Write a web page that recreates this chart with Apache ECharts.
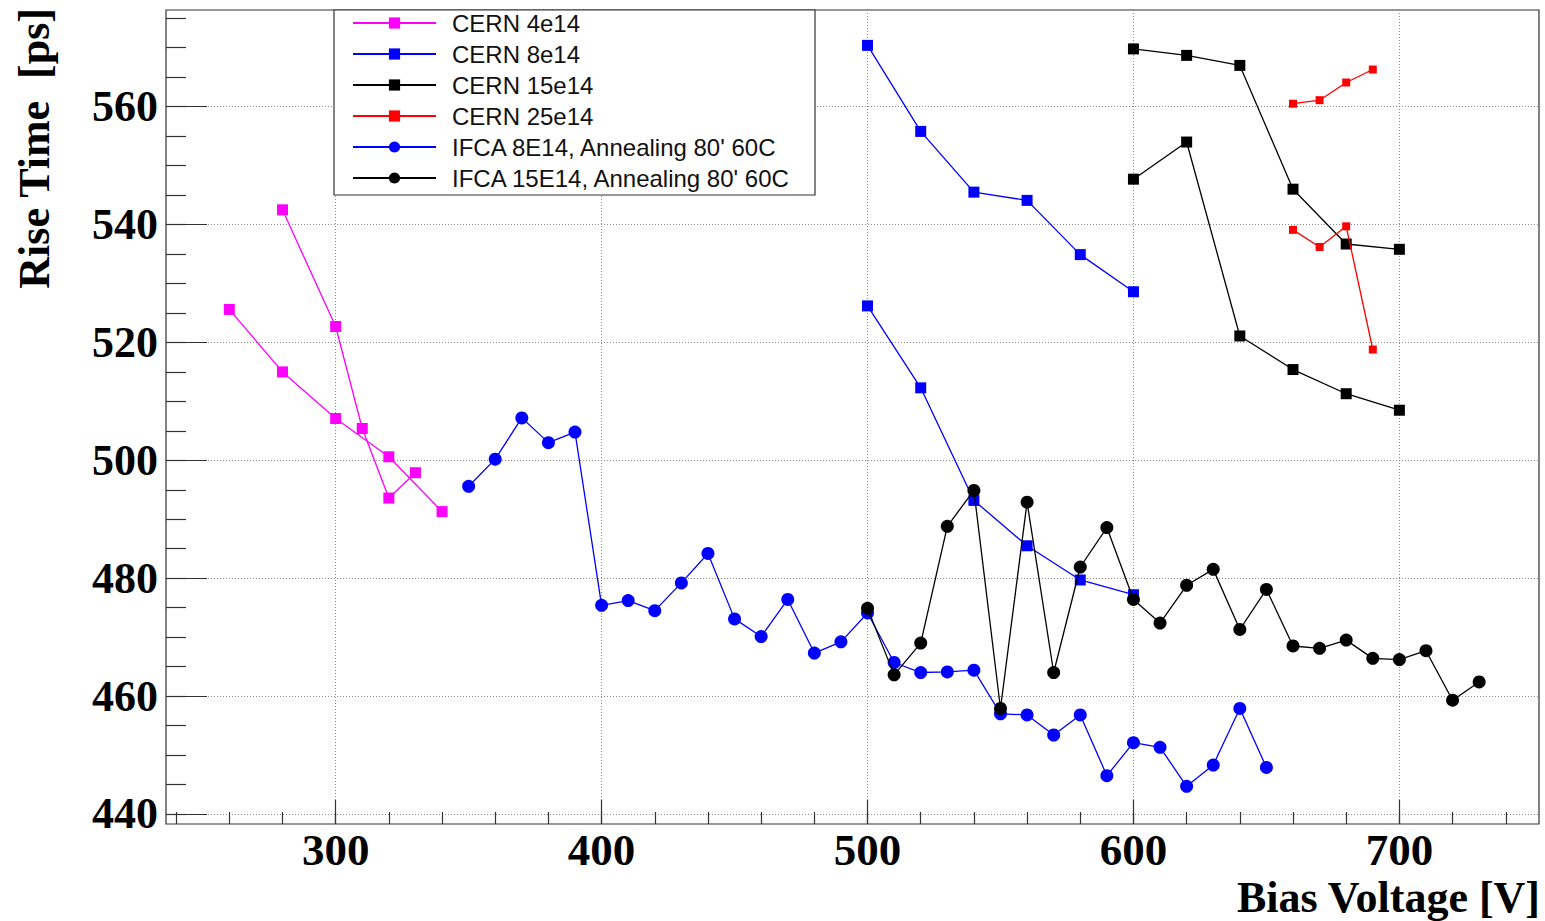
<!DOCTYPE html>
<html><head><meta charset="utf-8">
<script src="https://cdn.jsdelivr.net/npm/echarts@6/dist/echarts.min.js"></script>
<style>html,body{margin:0;padding:0;background:#fff}#c{width:1545px;height:921px}</style>
</head><body><div id="c"></div>
<script>
// ---- axis ranges & ticks ----
const X_MIN = 236.2, X_MAX = 752.5, Y_MIN = 438.3, Y_MAX = 576.4;
const xMajorTicks = [300, 400, 500, 600, 700];
const xMinorTicks = [240, 260, 280, 300, 320, 340, 360, 380, 400, 420, 440, 460, 480, 500, 520, 540, 560, 580, 600, 620, 640, 660, 680, 700, 720, 740];
const yMajorTicks = [440, 460, 480, 500, 520, 540, 560];
const yMinorTicks = [440, 445, 450, 455, 460, 465, 470, 475, 480, 485, 490, 495, 500, 505, 510, 515, 520, 525, 530, 535, 540, 545, 550, 555, 560, 565, 570, 575];
const xTitle = 'Bias Voltage [V]';
const yTitle = 'Rise Time  [ps]';
const legendNames = ['CERN 4e14', 'CERN 8e14', 'CERN 15e14', 'CERN 25e14', 'IFCA 8E14, Annealing 80\' 60C', 'IFCA 15E14, Annealing 80\' 60C'];

// ---- data ----
const cern4A_x = [280, 300, 310, 320, 330];
const cern4A_y = [542.5, 522.7, 505.4, 493.6, 497.9];
const cern4B_x = [260, 280, 300, 320, 340];
const cern4B_y = [525.6, 515.0, 507.1, 500.6, 491.3];
const cern8A_x = [500, 520, 540, 560, 580, 600];
const cern8A_y = [570.4, 555.8, 545.5, 544.1, 534.9, 528.6];
const cern8B_x = [500, 520, 540, 560, 580, 600];
const cern8B_y = [526.2, 512.3, 493.2, 485.5, 479.7, 477.2];
const cern15A_x = [600, 620, 640, 660, 680, 700];
const cern15A_y = [569.8, 568.7, 567.0, 546.0, 536.7, 535.8];
const cern15B_x = [600, 620, 640, 660, 680, 700];
const cern15B_y = [547.7, 554.0, 521.1, 515.4, 511.3, 508.5];
const cern25A_x = [660, 670, 680, 690];
const cern25A_y = [560.5, 561.1, 564.1, 566.3];
const cern25B_x = [660, 670, 680, 690];
const cern25B_y = [539.1, 536.2, 539.7, 518.8];
const ifca8_x = [350, 360, 370, 380, 390, 400, 410, 420, 430, 440, 450, 460, 470, 480, 490, 500, 510, 520, 530, 540, 550, 560, 570, 580, 590, 600, 610, 620, 630, 640, 650];
const ifca8_y = [495.6, 500.2, 507.2, 503.0, 504.8, 475.4, 476.2, 474.5, 479.2, 484.2, 473.1, 470.1, 476.4, 467.3, 469.2, 474.1, 465.7, 464.0, 464.1, 464.4, 457.0, 456.8, 453.4, 456.8, 446.5, 452.1, 451.3, 444.7, 448.3, 457.9, 447.9];
const ifca15_x = [500, 510, 520, 530, 540, 550, 560, 570, 580, 590, 600, 610, 620, 630, 640, 650, 660, 670, 680, 690, 700, 710, 720, 730];
const ifca15_y = [474.9, 463.6, 469.0, 488.8, 494.9, 457.9, 492.9, 464.0, 481.9, 488.6, 476.4, 472.4, 478.8, 481.5, 471.3, 478.1, 468.5, 468.1, 469.5, 466.4, 466.2, 467.7, 459.3, 462.4];

function mk(name, xs, ys, color, symbol, size, z) {
  return {
    type: 'line', name: name,
    data: xs.map((x, i) => [x, ys[i]]),
    symbol: symbol, symbolSize: size, showSymbol: true,
    itemStyle: { color: color, borderWidth: 0 },
    lineStyle: { color: color, width: 1.3 },
    emphasis: { disabled: true },
    animation: false, z: z
  };
}

const serif = 'Liberation Serif';
const chart = echarts.init(document.getElementById('c'), null, { renderer: 'svg' });
chart.setOption({
  backgroundColor: '#fff',
  animation: false,
  grid: { left: 166, top: 10, right: 6, bottom: 97, show: true, borderColor: '#333', borderWidth: 1.2, backgroundColor: 'transparent' },
  xAxis: [
    {
      type: 'value', min: X_MIN, max: X_MAX, position: 'bottom',
      axisLine: { show: false },
      axisTick: { show: true, inside: true, length: 24, customValues: xMajorTicks, lineStyle: { color: '#333', width: 1.2 } },
      axisLabel: { show: true, customValues: xMajorTicks, margin: 6, color: '#000', fontFamily: serif, fontWeight: 'bold', fontSize: 45, lineHeight: 40 },
      splitLine: { show: true, lineStyle: { color: '#888', width: 1, type: [1, 2] } }
    },
    {
      type: 'value', min: X_MIN, max: X_MAX, position: 'bottom', offset: 0,
      axisLine: { show: false },
      axisTick: { show: true, inside: true, length: 12, customValues: xMinorTicks, lineStyle: { color: '#333', width: 1.2 } },
      axisLabel: { show: false },
      splitLine: { show: false }
    }
  ],
  yAxis: [
    {
      type: 'value', min: Y_MIN, max: Y_MAX, position: 'left',
      axisLine: { show: false },
      axisTick: { show: true, inside: true, length: 41, customValues: yMajorTicks, lineStyle: { color: '#333', width: 1.2 } },
      axisLabel: { show: true, customValues: yMajorTicks, margin: 8, color: '#000', fontFamily: serif, fontWeight: 'bold', fontSize: 44 },
      splitLine: { show: true, lineStyle: { color: '#888', width: 1, type: [1, 2] } }
    },
    {
      type: 'value', min: Y_MIN, max: Y_MAX, position: 'left', offset: 0,
      axisLine: { show: false },
      axisTick: { show: true, inside: true, length: 20, customValues: yMinorTicks, lineStyle: { color: '#333', width: 1.2 } },
      axisLabel: { show: false },
      splitLine: { show: false }
    }
  ],
  legend: {
    data: legendNames, orient: 'vertical', left: 334, top: 10,
    padding: [1, 18, 5, 18], itemGap: 7, itemWidth: 83, itemHeight: 14,
    backgroundColor: '#fff', borderColor: '#333', borderWidth: 1.2,
    selectedMode: false,
    textStyle: { fontFamily: 'Liberation Sans', fontSize: 24, color: '#111', width: 345, lineHeight: 24, padding: [0, 0, 0, 11] }
  },
  graphic: [
    { type: 'text', x: 1540, y: 897, z: 100,
      style: { text: xTitle, fill: '#000', font: 'bold 44px "Liberation Serif"', lineHeight: 38, align: 'right', verticalAlign: 'middle' } },
    { type: 'text', x: 34, y: 8, rotation: Math.PI / 2, z: 100,
      style: { text: yTitle, fill: '#000', font: 'bold 44px "Liberation Serif"', align: 'right', verticalAlign: 'middle' } }
  ],
  series: [
    mk(legendNames[0], cern4A_x, cern4A_y, '#ff00ff', 'rect', 11, 2),
    mk(legendNames[0], cern4B_x, cern4B_y, '#ff00ff', 'rect', 11, 2),
    mk(legendNames[1], cern8A_x, cern8A_y, '#0000ff', 'rect', 11, 3),
    mk(legendNames[1], cern8B_x, cern8B_y, '#0000ff', 'rect', 11, 3),
    mk(legendNames[2], cern15A_x, cern15A_y, '#000000', 'rect', 11, 4),
    mk(legendNames[2], cern15B_x, cern15B_y, '#000000', 'rect', 11, 4),
    mk(legendNames[3], cern25A_x, cern25A_y, '#ff0000', 'rect', 8, 5),
    mk(legendNames[3], cern25B_x, cern25B_y, '#ff0000', 'rect', 8, 5),
    mk(legendNames[4], ifca8_x, ifca8_y, '#0000ff', 'circle', 13, 6),
    mk(legendNames[5], ifca15_x, ifca15_y, '#000000', 'circle', 13, 7)
  ]
});
</script></body></html>
